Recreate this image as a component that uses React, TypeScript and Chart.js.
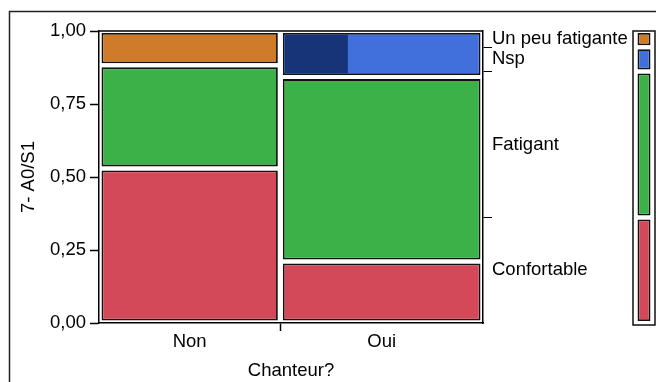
import React, { useEffect, useRef } from 'react';
import { Chart, registerables } from 'chart.js';

Chart.register(...registerables);

// ---------- data ----------
const columnLabels = ['Non', 'Oui'];
const categoryLabels = ['Confortable', 'Fatigant', 'Nsp', 'Un peu fatigante'];
const countsNon = [9, 6, 0, 2];
const countsOui = [4, 12, 3, 0];
const selectedNspOui = 1; // highlighted rows inside the Oui / Nsp cell
const yTickValues = [0, 0.25, 0.5, 0.75, 1];
const yTickLabels = ['0,00', '0,25', '0,50', '0,75', '1,00'];
const xTitle = 'Chanteur?';
const yTitle = '7- A0/S1';

// ---------- styles ----------
const categoryColors = ['#D4495A', '#3BB148', '#4170DD', '#D07B2A'];
const selectedColor = '#173479';
const CELL_BORDER = 1.8;
const FONT = { family: '"Liberation Sans", Arial, sans-serif', size: 18.5 };

// ---------- derived ----------
const counts = [countsNon, countsOui];
const colTotals = counts.map((c) => c.reduce((a, b) => a + b, 0));
const grandTotal = colTotals.reduce((a, b) => a + b, 0);
const colStarts: number[] = [];
{
  let acc = 0;
  colTotals.forEach((t) => {
    colStarts.push(acc);
    acc += t / grandTotal;
  });
}
const colEnds = colStarts.map((s, j) => s + colTotals[j] / grandTotal);

function cellRange(col: number[], k: number, tot: number) {
  let lo = 0;
  for (let i = 0; i < k; i++) lo += col[i];
  return [lo / tot, (lo + col[k]) / tot];
}

const overall = categoryLabels.map((_, k) => countsNon[k] + countsOui[k]);

// main mosaic datasets
const mainDatasets: any[] = [];
// highlight (drawn on top: first dataset)
{
  const j = 1;
  const k = 2;
  const [lo, hi] = cellRange(counts[j], k, colTotals[j]);
  const x0 = colStarts[j];
  const x1 = colStarts[j] + (colEnds[j] - colStarts[j]) * (selectedNspOui / counts[j][k]);
  mainDatasets.push({
    label: 'Nsp (sélection)',
    data: [{ x: (x0 + x1) / 2, x0, x1, y: [lo, hi], inner: true }],
    backgroundColor: selectedColor,
    borderWidth: 0,
  });
}
categoryLabels.forEach((cat, k) => {
  const data: any[] = [];
  counts.forEach((col, j) => {
    if (col[k] <= 0) return;
    const [lo, hi] = cellRange(col, k, colTotals[j]);
    const x0 = colStarts[j];
    const x1 = colEnds[j];
    data.push({ x: (x0 + x1) / 2, x0, x1, y: [lo, hi] });
  });
  mainDatasets.push({
    label: cat,
    data,
    backgroundColor: categoryColors[k],
    borderColor: '#111',
    borderWidth: CELL_BORDER,
  });
});

// side (marginal) datasets
const sideDatasets = categoryLabels.map((cat, k) => {
  const [lo, hi] = cellRange(overall, k, grandTotal);
  return {
    label: cat,
    data: [{ x: 0.5, x0: 0, x1: 1, y: [lo, hi] }],
    backgroundColor: categoryColors[k],
    borderColor: '#111',
    borderWidth: CELL_BORDER,
  };
});

// x ticks: column centres (labelled) and boundary (tick mark only)
const xTicks: { value: number; label: string }[] = [];
columnLabels.forEach((lab, j) => {
  xTicks.push({ value: (colStarts[j] + colEnds[j]) / 2, label: lab });
  if (j < columnLabels.length - 1) xTicks.push({ value: colEnds[j], label: '' });
});

// right ticks: overall category centres (labelled) and boundaries (tick mark only)
const rightTicks: { value: number; label: string }[] = [];
categoryLabels.forEach((cat, k) => {
  const [lo, hi] = cellRange(overall, k, grandTotal);
  rightTicks.push({ value: (lo + hi) / 2, label: cat });
  if (k < categoryLabels.length - 1) rightTicks.push({ value: hi, label: '' });
});

// ---------- plugins ----------
const mosaicPlugin = {
  id: 'mosaic',
  afterDatasetsUpdate(chart: any, _args: any, opts: any) {
    const xs = chart.scales.x;
    const ix = opts.insetX;
    const iy = opts.insetY;
    chart.data.datasets.forEach((ds: any, di: number) => {
      const meta = chart.getDatasetMeta(di);
      meta.data.forEach((el: any, i: number) => {
        const raw = ds.data[i];
        const p0 = xs.getPixelForValue(raw.x0);
        const p1 = xs.getPixelForValue(raw.x1);
        let top = Math.min(el.y, el.base);
        let bottom = Math.max(el.y, el.base);
        let left: number;
        let right: number;
        if (raw.inner) {
          left = p0 + ix + CELL_BORDER;
          right = p1;
          top += iy + CELL_BORDER;
          bottom -= iy + CELL_BORDER;
        } else {
          left = p0 + ix;
          right = p1 - ix;
          top += iy;
          bottom -= iy;
        }
        el.x = (left + right) / 2;
        el.width = right - left;
        el.y = top;
        el.base = bottom;
        el.height = bottom - top;
      });
    });
  },
};

const mainFramePlugin = {
  id: 'mainFrame',
  afterDraw(chart: any) {
    const { ctx, chartArea: a } = chart;
    ctx.save();
    ctx.strokeStyle = '#000';
    ctx.lineWidth = 1.5;
    ctx.beginPath();
    ctx.moveTo(a.left, a.top);
    ctx.lineTo(a.right, a.top);
    ctx.stroke();
    // outer panel frame
    ctx.strokeStyle = '#222';
    ctx.lineWidth = 1.5;
    ctx.beginPath();
    ctx.moveTo(9.5, chart.height);
    ctx.lineTo(9.5, 11.5);
    ctx.lineTo(chart.width, 11.5);
    ctx.stroke();
    ctx.restore();
  },
};

const sideFramePlugin = {
  id: 'sideFrame',
  afterDraw(chart: any) {
    const { ctx, chartArea: a } = chart;
    ctx.save();
    ctx.strokeStyle = '#111';
    ctx.lineWidth = 1.5;
    ctx.strokeRect(a.left, a.top, a.right - a.left, a.bottom - a.top + 2);
    ctx.restore();
  },
};

export default function App() {
  const mainRef = useRef<HTMLCanvasElement>(null);
  const sideRef = useRef<HTMLCanvasElement>(null);

  useEffect(() => {
    Chart.defaults.color = '#000';
    Chart.defaults.font.family = FONT.family;
    Chart.defaults.font.size = FONT.size;

    const main = new Chart(mainRef.current as HTMLCanvasElement, {
      type: 'bar',
      data: { datasets: mainDatasets },
      plugins: [mosaicPlugin, mainFramePlugin],
      options: {
        responsive: false,
        animation: false,
        devicePixelRatio: 1,
        events: [],
        layout: { padding: { top: 31, left: 0, right: 0, bottom: 0 } },
        datasets: { bar: { borderSkipped: false, inflateAmount: 0, grouped: false } },
        plugins: {
          legend: { display: false },
          tooltip: { enabled: false },
          mosaic: { insetX: 2.5, insetY: 2 },
        } as any,
        scales: {
          x: {
            type: 'linear',
            min: 0,
            max: 1,
            offset: false,
            afterBuildTicks: (s: any) => {
              s.ticks = xTicks.map((t) => ({ value: t.value }));
            },
            afterFit: (s: any) => {
              s.height = 59;
            },
            ticks: {
              autoSkip: false,
              maxRotation: 0,
              padding: 0,
              color: '#000',
              font: FONT,
              callback: (_v: any, i: number) => xTicks[i].label,
            },
            grid: {
              offset: false,
              drawOnChartArea: false,
              drawTicks: true,
              tickLength: 8,
              tickWidth: 1.5,
              tickColor: (ctx: any) => (xTicks[ctx.index] && xTicks[ctx.index].label === '' ? '#000' : 'rgba(0,0,0,0)'),
            },
            border: { display: true, color: '#000', width: 1.5 },
            title: { display: true, text: xTitle, color: '#000', font: FONT, padding: { top: 0, bottom: 0 } },
          } as any,
          y: {
            type: 'linear',
            min: 0,
            max: 1,
            afterBuildTicks: (s: any) => {
              s.ticks = yTickValues.map((v) => ({ value: v }));
            },
            afterFit: (s: any) => {
              s.width = 99;
            },
            ticks: {
              autoSkip: false,
              padding: 4,
              color: '#000',
              font: FONT,
              callback: (_v: any, i: number) => yTickLabels[i],
            },
            grid: { drawOnChartArea: false, drawTicks: true, tickLength: 9, tickWidth: 1.5, tickColor: '#000' },
            border: { display: true, color: '#000', width: 1.5 },
            title: { display: true, text: yTitle, color: '#000', font: FONT, padding: { top: 18, bottom: 0 } },
          } as any,
          y2: {
            type: 'linear',
            position: 'right',
            min: 0,
            max: 1,
            afterBuildTicks: (s: any) => {
              s.ticks = rightTicks.map((t) => ({ value: t.value }));
            },
            afterFit: (s: any) => {
              s.width = 173;
            },
            ticks: {
              autoSkip: false,
              padding: 0,
              color: '#000',
              font: FONT,
              callback: (_v: any, i: number) => rightTicks[i].label,
            },
            grid: {
              drawOnChartArea: false,
              drawTicks: true,
              tickLength: 9,
              tickWidth: 1,
              tickColor: (ctx: any) => (rightTicks[ctx.index] && rightTicks[ctx.index].label === '' ? '#000' : 'rgba(0,0,0,0)'),
            },
            border: { display: true, color: '#000', width: 1.5 },
          } as any,
        },
      },
    } as any);

    const side = new Chart(sideRef.current as HTMLCanvasElement, {
      type: 'bar',
      data: { datasets: sideDatasets },
      plugins: [mosaicPlugin, sideFramePlugin],
      options: {
        responsive: false,
        animation: false,
        devicePixelRatio: 1,
        events: [],
        layout: { padding: { top: 31, left: 633, right: 1, bottom: 59 } },
        datasets: { bar: { borderSkipped: false, inflateAmount: 0, grouped: false } },
        plugins: {
          legend: { display: false },
          tooltip: { enabled: false },
          mosaic: { insetX: 4.5, insetY: 2 },
        } as any,
        scales: {
          x: { type: 'linear', min: 0, max: 1, offset: false, display: false } as any,
          y: { type: 'linear', min: 0, max: 1, display: false },
        },
      },
    } as any);

    return () => {
      main.destroy();
      side.destroy();
    };
  }, []);

  return (
    <div style={{ position: 'fixed', left: 0, top: 0, width: 656, height: 382, background: '#fff', overflow: 'hidden' }}>
      <canvas ref={mainRef} width={656} height={382} style={{ position: 'absolute', left: 0, top: 0 }} />
      <canvas ref={sideRef} width={656} height={382} style={{ position: 'absolute', left: 0, top: 0, pointerEvents: 'none' }} />
    </div>
  );
}
